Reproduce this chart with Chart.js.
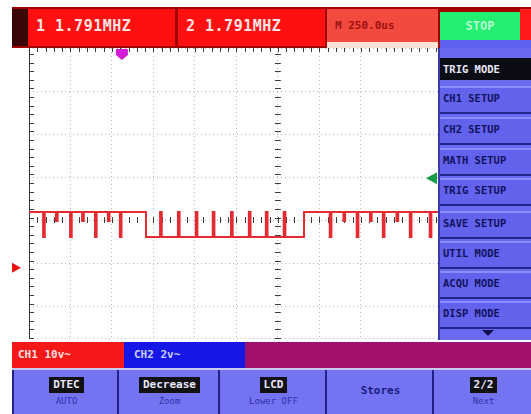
<!DOCTYPE html>
<html>
<head>
<meta charset="utf-8">
<script src="https://cdn.jsdelivr.net/npm/chart.js@4"></script>
<style>
  body { margin:0; width:531px; height:414px; background:#fff; position:relative; overflow:hidden;
         font-family:"DejaVu Sans Mono", monospace; font-weight:bold; }
  .abs { position:absolute; box-sizing:border-box; }
  .topTxt { color:#ffe4e4; font-size:15px; line-height:34px; letter-spacing:0.5px; padding-left:8px; }
  .menuItem { position:absolute; left:440px; width:91px; height:24px; background:#6262ec;
              border-top:2px solid #8c8cff; border-bottom:2px solid #23238a;
              color:#12125e; font-size:10.5px; line-height:20px; padding-left:3px; white-space:nowrap; overflow:hidden; }
  .key { position:absolute; top:370px; height:44px; background:#7474f2; border-left:2px solid #22228a;
         text-align:center; }
  .key .hi { display:inline-block; margin-top:7px; background:#111; color:#e8e8ff; font-size:11px;
             padding:1px 4px; line-height:14px; }
  .key .lo { color:#3030a8; font-size:9px; margin-top:3px; font-weight:normal; }
</style>
</head>
<body>
<!-- barra superior -->
<div class="abs" style="left:12px;top:7px;width:519px;height:41px;background:#a00000"></div>
<div class="abs" style="left:12px;top:9px;width:16px;height:37px;background:#3a0606"></div>
<div class="abs topTxt" style="left:28px;top:9px;width:147px;height:37px;background:#ff1010">1 1.791MHZ</div>
<div class="abs topTxt" style="left:178px;top:9px;width:147px;height:37px;background:#ff1010">2 1.791MHZ</div>
<div class="abs" style="left:327px;top:9px;width:111px;height:33px;background:#f24a3e;color:#a01010;font-size:11px;line-height:33px;padding-left:8px">M 250.0us</div>
<div class="abs" style="left:327px;top:42px;width:111px;height:6px;background:#ffe2d4"></div>
<div class="abs" style="left:440px;top:12px;width:80px;height:28px;background:#22ee72;color:#b8ffd0;font-size:12px;line-height:28px;text-align:center">STOP</div>
<div class="abs" style="left:440px;top:40px;width:91px;height:8px;background:#6060f0"></div>
<div class="abs" style="left:520px;top:9px;width:11px;height:31px;background:#ff1a1a"></div>

<!-- area do grafico -->
<div class="abs" style="left:0;top:44px;width:438px;height:298px">
  <canvas id="scope" width="438" height="298"></canvas>
</div>

<!-- menu lateral -->
<div class="abs" style="left:438px;top:48px;width:93px;height:292px;background:#6a6af0;border-left:2px solid #3a3ab0"></div>
<div class="abs" style="left:440px;top:58px;width:91px;height:22px;background:#0c0c14;color:#e8e8f8;font-size:10.5px;line-height:22px;padding-left:3px">TRIG MODE</div>
<div id="menu"></div>
<div class="abs" style="left:482px;top:330px;width:0;height:0;border-left:6px solid transparent;border-right:6px solid transparent;border-top:6px solid #10104a"></div>

<!-- barra de canais -->
<div class="abs" style="left:12px;top:342px;width:112px;height:26px;background:#f41818;color:#ffe0e0;font-size:11px;line-height:26px;padding-left:6px">CH1 10v~</div>
<div class="abs" style="left:124px;top:342px;width:121px;height:26px;background:#1616e6;color:#c8d0ff;font-size:11px;line-height:26px;padding-left:10px">CH2 2v~</div>
<div class="abs" style="left:245px;top:342px;width:286px;height:26px;background:#a0106c"></div>
<div class="abs" style="left:12px;top:368px;width:519px;height:2px;background:#c8c8ff"></div>

<!-- teclas inferiores -->
<div id="keys"></div>

<script>
const X_MIN = 0, X_MAX = 9.86;
const Y_MIN = -2.74, Y_MAX = 4;
const HIGH = 0.19, LOW = -0.39, MINOR = -0.02;
const edgeDown = 2.82, edgeUp = 6.63;
const dipsLeft = [0.34, 0.99, 1.59, 2.19];
const minorDips = [0.65, 1.28, 1.90, 7.58, 8.22, 8.86];
const bumps = [3.16, 3.59, 4.02, 4.43, 4.87, 5.30, 5.71, 6.14];
const dipsRight = [7.25, 7.90, 8.53, 9.18, 9.66];
const SPIKE_W = 0.04;
const centerX = 6;            // coluna de marcas do centro
const trigPos = 2.24;         // marcador magenta (topo)
const trigLevel = 0.97;       // marcador verde (direita)
const groundLevel = -1.11;    // marcador vermelho (esquerda)

const menuLabels = ["CH1 SETUP", "CH2 SETUP", "MATH SETUP", "TRIG SETUP", "SAVE SETUP", "UTIL MODE", "ACQU MODE", "DISP MODE"];
const menuTops = [86, 117, 148, 178, 211, 241, 271, 301];
const keyHi = ["DTEC", "Decrease", "LCD", "", "2/2"];
const keyLo = ["AUTO", "Zoom", "Lower OFF", "Stores", "Next"];
const keyEdges = [12, 117, 218, 325, 432, 531];

// menus em HTML
const menu = document.getElementById("menu");
menuLabels.forEach((t, i) => {
  const d = document.createElement("div");
  d.className = "menuItem";
  d.style.top = menuTops[i] + "px";
  d.textContent = t;
  menu.appendChild(d);
});
const keys = document.getElementById("keys");
keyLo.forEach((t, i) => {
  const d = document.createElement("div");
  d.className = "key";
  d.style.left = keyEdges[i] + "px";
  d.style.width = (keyEdges[i + 1] - keyEdges[i]) + "px";
  if (keyHi[i]) {
    d.innerHTML = `<div class="hi">${keyHi[i]}</div><div class="lo">${t}</div>`;
  } else {
    d.innerHTML = `<div style="margin-top:14px;color:#1a1a80;font-size:11px">${t}</div>`;
  }
  keys.appendChild(d);
});

// traço: monta os pontos a partir das bordas lidas
function buildTrace() {
  const ev = [];
  dipsLeft.concat(dipsRight).forEach(x => ev.push({ x, base: HIGH, to: LOW }));
  minorDips.forEach(x => ev.push({ x, base: HIGH, to: MINOR }));
  bumps.forEach(x => ev.push({ x, base: LOW, to: HIGH }));
  ev.sort((a, b) => a.x - b.x);
  const pts = [{ x: X_MIN, y: HIGH }];
  let edgesDone = { down: false, up: false };
  ev.forEach(e => {
    if (!edgesDone.down && e.x > edgeDown) { pts.push({ x: edgeDown, y: HIGH }, { x: edgeDown, y: LOW }); edgesDone.down = true; }
    if (!edgesDone.up && e.x > edgeUp) { pts.push({ x: edgeUp, y: LOW }, { x: edgeUp, y: HIGH }); edgesDone.up = true; }
    pts.push({ x: e.x, y: e.base }, { x: e.x, y: e.to }, { x: e.x + SPIKE_W, y: e.to }, { x: e.x + SPIKE_W, y: e.base });
  });
  pts.push({ x: X_MAX, y: HIGH });
  return pts;
}

// marcas do graticulado e marcadores
const scopeDeco = {
  id: "scopeDeco",
  beforeDatasetsDraw(chart) {
    const { ctx, chartArea: a, scales: { x, y } } = chart;
    ctx.save();
    ctx.strokeStyle = "#3c3c3c";
    ctx.lineWidth = 1;
    ctx.beginPath();
    ctx.moveTo(a.left + 0.5, a.top); ctx.lineTo(a.left + 0.5, a.bottom);
    for (let v = Y_MIN; v <= Y_MAX + 0.001; v += 0.2) {
      const py = Math.round(y.getPixelForValue(v)) + 0.5;
      ctx.moveTo(a.left, py); ctx.lineTo(a.left + 5, py);
      const cx = x.getPixelForValue(centerX);
      ctx.moveTo(cx - 3, py); ctx.lineTo(cx + 3, py);
    }
    for (let v = X_MIN; v <= X_MAX + 0.001; v += 0.2) {
      const px = Math.round(x.getPixelForValue(v)) + 0.5;
      ctx.moveTo(px, a.top); ctx.lineTo(px, a.top + 4);
      const cy = y.getPixelForValue(0);
      ctx.moveTo(px, cy - 3); ctx.lineTo(px, cy + 3);
    }
    ctx.stroke();
    ctx.restore();
  },
  afterDatasetsDraw(chart) {
    const { ctx, chartArea: a, scales: { x, y } } = chart;
    ctx.save();
    // posição do disparo
    const mx = x.getPixelForValue(trigPos);
    ctx.fillStyle = "#d41cd4";
    ctx.beginPath();
    ctx.moveTo(mx - 6, a.top + 1); ctx.lineTo(mx + 6, a.top + 1);
    ctx.lineTo(mx + 6, a.top + 7); ctx.lineTo(mx, a.top + 12); ctx.lineTo(mx - 6, a.top + 7);
    ctx.closePath(); ctx.fill();
    // nível de disparo
    const ty = y.getPixelForValue(trigLevel);
    ctx.fillStyle = "#1a9a44";
    ctx.beginPath();
    ctx.moveTo(a.right - 12, ty); ctx.lineTo(a.right - 1, ty - 6); ctx.lineTo(a.right - 1, ty + 6);
    ctx.closePath(); ctx.fill();
    // referência CH1
    const gy = y.getPixelForValue(groundLevel);
    ctx.fillStyle = "#e81414";
    ctx.beginPath();
    ctx.moveTo(12, gy - 5); ctx.lineTo(21, gy); ctx.lineTo(12, gy + 5);
    ctx.closePath(); ctx.fill();
    ctx.restore();
  }
};

const gridOpts = { color: "#b8b8b8", lineWidth: 1, drawTicks: false };

new Chart(document.getElementById("scope"), {
  type: "line",
  data: {
    datasets: [{
      data: buildTrace(),
      borderColor: "#e62a32",
      borderWidth: 2,
      pointRadius: 0,
      tension: 0,
      fill: false
    }]
  },
  options: {
    responsive: false,
    animation: false,
    devicePixelRatio: 1,
    layout: { padding: { left: 29, top: 4, right: 0, bottom: 4 } },
    plugins: { legend: { display: false }, tooltip: { enabled: false } },
    scales: {
      x: { type: "linear", min: X_MIN, max: X_MAX,
           ticks: { display: false, stepSize: 1 },
           grid: gridOpts, border: { display: false, dash: [1, 3] } },
      y: { type: "linear", min: Y_MIN, max: Y_MAX,
           ticks: { display: false, stepSize: 1 },
           grid: gridOpts, border: { display: false, dash: [1, 3] } }
    }
  },
  plugins: [scopeDeco]
});
</script>
</body>
</html>
